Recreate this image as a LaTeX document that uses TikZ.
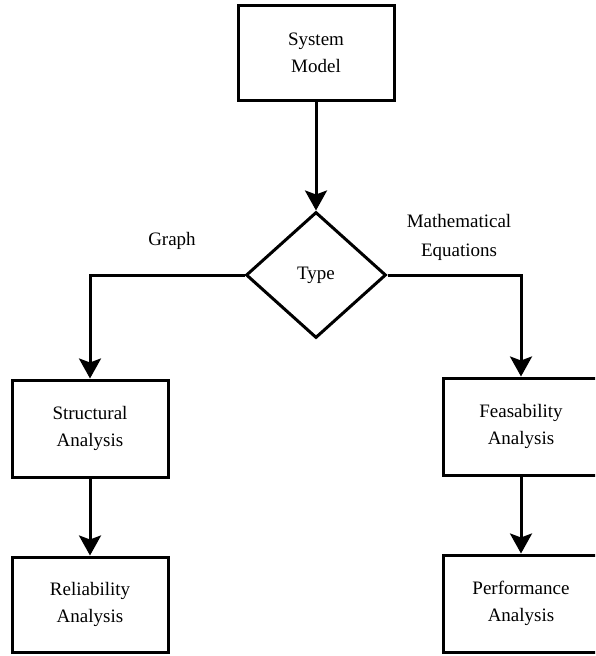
\documentclass[tikz,border=0pt]{standalone}
\usepackage{fontspec}
\setmainfont{Liberation Serif}
\usetikzlibrary{shapes.geometric,arrows.meta}
\begin{document}
\begin{tikzpicture}[x=1pt,y=-1pt,
  box/.style={draw=black,line width=3pt,minimum width=156pt,inner sep=0pt,align=center,font=\fontsize{19}{27}\selectfont},
  decision/.style={draw=black,line width=3pt,shape=diamond,inner sep=0pt,minimum width=140pt,minimum height=126pt,font=\fontsize{19}{27}\selectfont},
  lbl/.style={align=center,font=\fontsize{19}{29}\selectfont},
  conn/.style={line width=3pt,-{Stealth[length=20pt,width=22pt,inset=4pt]}}]
\useasboundingbox (0,0) rectangle (595,656);
\clip (0,0) rectangle (595,656);
\node[box,minimum height=95pt] (sm) at (316,52.5) {System\\Model};
\node[decision] (ty) at (316,275) {Type};
\node[box,minimum height=97pt] (sa) at (90,428.5) {Structural\\Analysis};
\node[box,minimum height=95pt] (ra) at (90,604.5) {Reliability\\Analysis};
\node[box,minimum height=97pt] (fa) at (521,426.5) {Feasability\\Analysis};
\node[box,minimum height=97pt] (pa) at (521,603.5) {Performance\\Analysis};
\node[lbl] (gl) at (172,241) {Graph};
\node[lbl] (ml) at (459,237) {Mathematical\\Equations};
\draw[conn] (sm.south) -- (ty.north);
\draw[conn] (ty.west) -| (sa.north);
\draw[conn] (ty.east) -| (fa.north);
\draw[conn] (sa.south) -- (ra.north);
\draw[conn] (fa.south) -- (pa.north);
\end{tikzpicture}
\end{document}
